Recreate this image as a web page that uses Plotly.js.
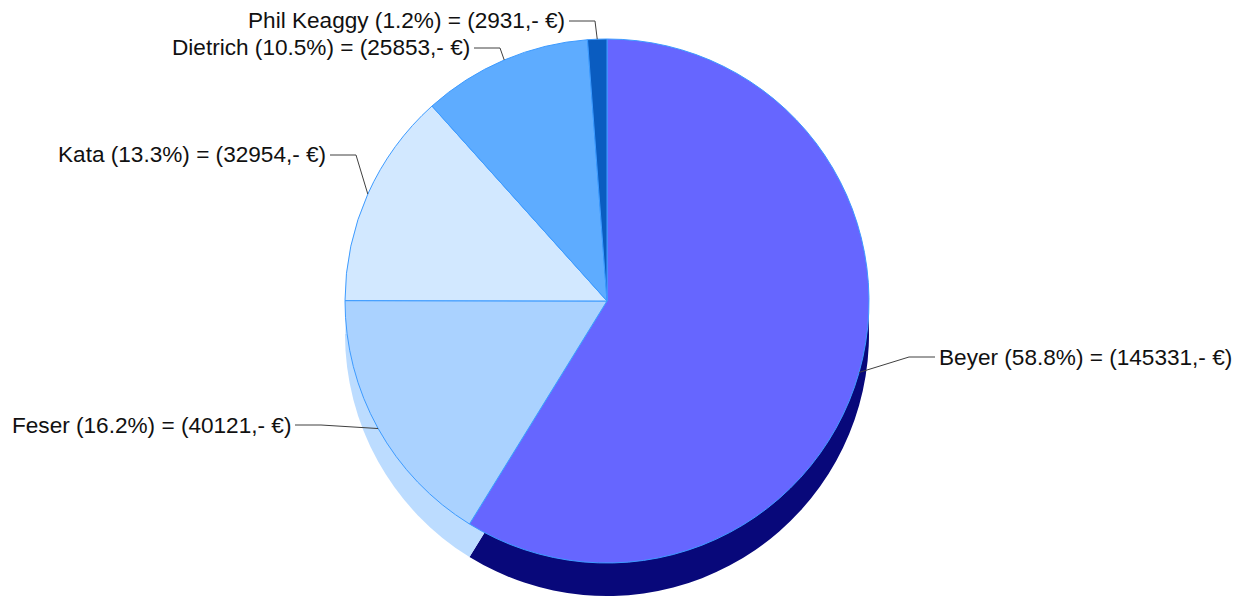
<!DOCTYPE html>
<html><head><meta charset="utf-8">
<script src="https://cdn.plot.ly/plotly-3.0.1.min.js"></script>
<style>html,body{margin:0;padding:0;background:#fff;} #chart{width:1248px;height:598px;}</style>
</head><body><div id="chart"></div>
<script>
const categories = ["Beyer", "Feser", "Kata", "Dietrich", "Phil Keaggy"];
const amounts = [145331, 40121, 32954, 25853, 2931];
const topColors = ["#6666ff", "#aad2ff", "#d2e8ff", "#5eacff", "#0a5cc0"];
const sideColors = ["#08087a", "#bcdcff", "#d8ebff", "#4a94e6", "#003f8a"];
const currencySuffix = ",- €";

const W = 1248, H = 598, CX = 607, CY = 301, R = 262, DEPTH = 33;
const px = x => x / W;
const py = y => 1 - y / H;

// label anchor positions (pixels): text start (left) or text end (right)
const labelPos = [
  {x: 937, y: 357, side: "left"},
  {x: 293, y: 425, side: "right"},
  {x: 328, y: 155, side: "right"},
  {x: 472, y: 48,  side: "right"},
  {x: 567, y: 21,  side: "right"}
];

const total = amounts.reduce((a, b) => a + b, 0);

function domainFor(cy) {
  return {x: [px(CX - R), px(CX + R)], y: [py(cy + R), py(cy - R)]};
}

const shadowTrace = {
  type: "pie", values: amounts, sort: false, direction: "clockwise", rotation: 0,
  textinfo: "none", hoverinfo: "skip", showlegend: false,
  marker: {colors: sideColors, line: {color: "rgba(0,0,0,0)", width: 0}},
  domain: domainFor(CY + DEPTH)
};
const faceTrace = {
  type: "pie", values: amounts, labels: categories, sort: false, direction: "clockwise", rotation: 0,
  textinfo: "none", hoverinfo: "skip", showlegend: false,
  marker: {colors: topColors, line: {color: "#3d9bff", width: 1}},
  domain: domainFor(CY)
};

const annotations = [], shapes = [];
let cum = 0;
amounts.forEach((v, i) => {
  const mid = (cum + v / 2) / total * 2 * Math.PI;
  cum += v;
  const ex = CX + R * Math.sin(mid), ey = CY - R * Math.cos(mid);
  const lp = labelPos[i];
  const pct = (v / total * 100).toFixed(1);
  annotations.push({
    xref: "paper", yref: "paper", x: px(lp.x), y: py(lp.y),
    xanchor: lp.side, yanchor: "middle", showarrow: false,
    text: categories[i] + " (" + pct + "%) = (" + v + currencySuffix + ")",
    font: {family: "Liberation Sans, Arial, sans-serif", size: 22.6, color: "#111"}
  });
  let sx = lp.side === "right" ? lp.x + 2 : lp.x - 2;
  let elbow;
  if (lp.side === "right") elbow = Math.min(lp.x + 28, ex);
  else elbow = Math.max(lp.x - 28, ex);
  shapes.push({
    type: "path", xref: "paper", yref: "paper",
    path: "M " + px(sx) + " " + py(lp.y) + " L " + px(elbow) + " " + py(lp.y) + " L " + px(ex) + " " + py(ey),
    line: {color: "#404040", width: 1}
  });
});

const layout = {
  width: W, height: H, margin: {l: 0, r: 0, t: 0, b: 0},
  paper_bgcolor: "#ffffff", showlegend: false, hovermode: false,
  annotations: annotations, shapes: shapes
};
Plotly.newPlot("chart", [shadowTrace, faceTrace], layout, {displayModeBar: false, staticPlot: true});
</script>
</body></html>
